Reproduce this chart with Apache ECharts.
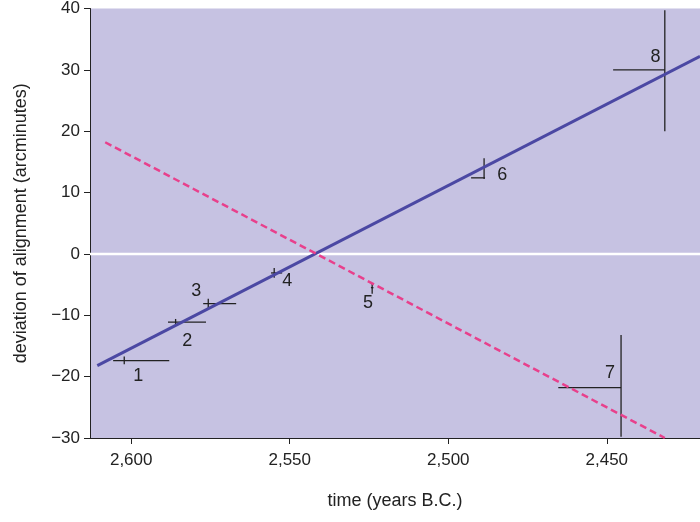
<!DOCTYPE html>
<html><head><meta charset="utf-8">
<script src="https://cdn.jsdelivr.net/npm/echarts@6/dist/echarts.min.js"></script>
<style>html,body{margin:0;padding:0;background:#fff}#c{width:700px;height:522px}</style>
</head><body><div id="c"></div>
<script>
const xTicks = [2600, 2550, 2500, 2450];
const yTicks = [-30, -20, -10, 0, 10, 20, 30, 40];
const solidLine = [[2610.7, -18.2], [2420.6, 32.2]];
const dashedLine = [[2608.2, 18.2], [2431.7, -30]];
// [x, y, xlo, xhi, ylo, yhi]
const points = [
  [2602.2, -17.4, 2605.7, 2588.0, -18.0, -16.7],
  [2586.0, -11.1, 2588.4, 2576.4, -11.6, -10.6],
  [2575.7, -8.1, 2577.3, 2566.9, -8.9, -7.3],
  [2554.9, -3.1, 2555.9, 2552.4, -3.9, -2.3],
  [2524.0, -5.5, 2524.4, 2523.6, -6.5, -4.8],
  [2488.7, 12.4, 2492.8, 2488.4, 12.2, 15.6],
  [2445.5, -21.8, 2465.3, 2445.5, -29.8, -13.2],
  [2431.7, 30.0, 2448.0, 2431.7, 20.0, 39.7]
];
const pointLabels = ['1','2','3','4','5','6','7','8'];
const labelPos = [[2597.8,-19.9],[2582.3,-14.2],[2579.5,-6.0],[2550.8,-4.4],[2525.3,-8.0],[2483,12.9],[2449,-19.4],[2434.6,32.1]];

const font = 'Liberation Sans, Arial, sans-serif';
const chart = echarts.init(document.getElementById('c'));
chart.setOption({
  animation: false,
  grid: {left: 90, right: 0, top: 8, bottom: 84, show: true, backgroundColor: '#c6c2e2', borderWidth: 0},
  xAxis: {
    type: 'value', inverse: true, min: 2420.6, max: 2613,
    name: 'time (years B.C.)', nameLocation: 'middle', nameGap: 54,
    nameTextStyle: {fontFamily: font, fontSize: 18, color: '#222'},
    axisLine: {show: true, onZero: false, lineStyle: {color: '#222'}},
    axisTick: {show: true, customValues: xTicks, length: 6, lineStyle: {color: '#222'}},
    axisLabel: {customValues: xTicks, fontFamily: font, fontSize: 17, color: '#222', margin: 14},
    splitLine: {show: false}
  },
  yAxis: {
    type: 'value', min: -30, max: 40, interval: 10,
    name: 'deviation of alignment (arcminutes)', nameLocation: 'middle', nameGap: 60,
    nameTextStyle: {fontFamily: font, fontSize: 18, color: '#222'},
    axisLine: {show: true, lineStyle: {color: '#222'}},
    axisTick: {show: true, length: 6, lineStyle: {color: '#222'}},
    axisLabel: {fontFamily: font, fontSize: 17, color: '#222', margin: 10,
      formatter: v => (v < 0 ? '\u2212' + (-v) : '' + v)},
    splitLine: {show: false}
  },
  series: [
    {type: 'line', data: [[2613, 0], [2420.6, 0]], symbol: 'none', silent: true,
     lineStyle: {color: '#ffffff', width: 2.5}},
    {type: 'line', data: solidLine, symbol: 'none', lineStyle: {color: '#4b48a3', width: 3}},
    {type: 'line', data: dashedLine, symbol: 'none', lineStyle: {color: '#e8408c', width: 2.5, type: [7, 4]}},
    {type: 'custom', data: points.map((p, i) => p.concat([i])),
     renderItem: function (params, api) {
       const x = api.value(0), y = api.value(1);
       const i = api.value(6);
       const a = api.coord([api.value(2), y]), b = api.coord([api.value(3), y]);
       const c = api.coord([x, api.value(4)]), d = api.coord([x, api.value(5)]);
       const lp = api.coord(labelPos[i]);
       const st = {stroke: '#222', lineWidth: 1.3};
       return {type: 'group', children: [
         {type: 'line', shape: {x1: a[0], y1: a[1], x2: b[0], y2: b[1]}, style: st},
         {type: 'line', shape: {x1: c[0], y1: c[1], x2: d[0], y2: d[1]}, style: st},
         {type: 'text', x: lp[0], y: lp[1], style: {text: pointLabels[i], fill: '#222', font: '18px ' + font, align: 'center', verticalAlign: 'middle'}}
       ]};
     }}
  ]
});
</script></body></html>
